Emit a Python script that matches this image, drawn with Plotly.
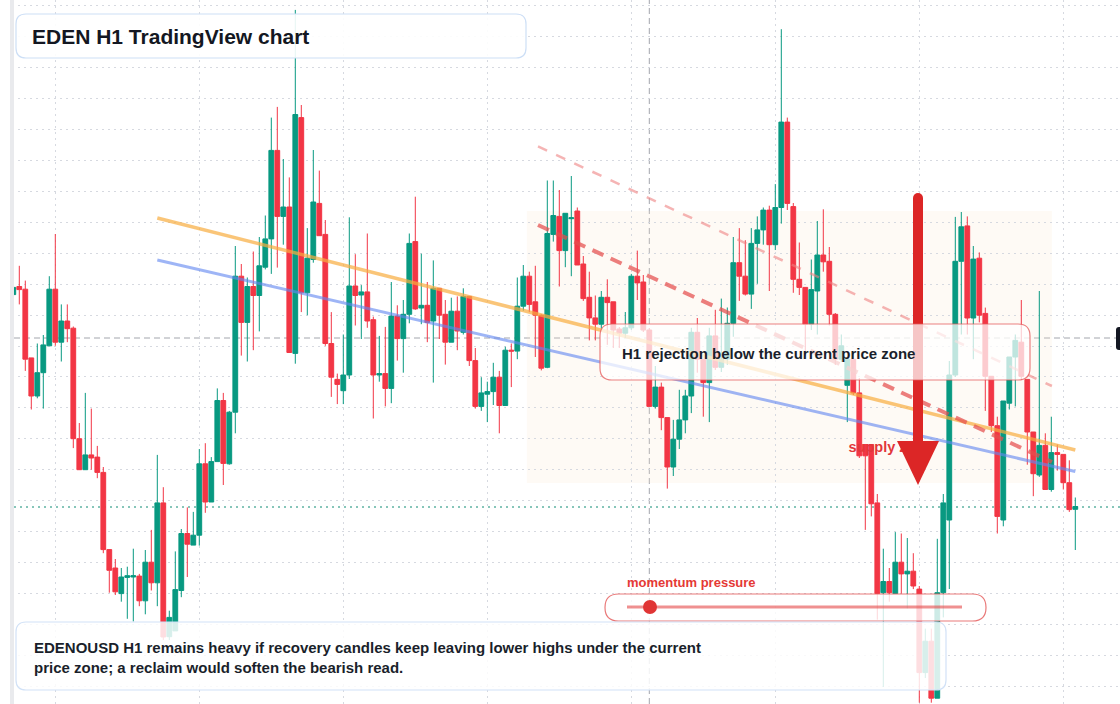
import plotly.graph_objects as go

W, H = 1120, 704

# ---------------- data (EDENOUSD H1 candles, price units) ----------------
opens = [
    .4254, .4335, .4308, .3621, .3240, .3473, .3742, .4308, .3778, .3990,
    .3918, .2813, .2503, .2651, .2629, .2476, .1704, .1520, .1264, .1426,
    .1430, .1439, .1192, .1578, .1372, .2171, .0833, .0891, .1295, .1865,
    .1749, .1848, .2562, .2180, .2584, .3195, .2562, .3078, .4438, .3976,
    .4335, .4245, .4528, .4811, .5696, .5036, .5130, .3666, .6024, .4272,
    .4605, .5166, .4856, .3765, .3406, .3293, .3450, .4340, .4250, .4281,
    .4003, .3450, .3464, .3316, .4039, .3814, .4057, .4784, .4120, .4147,
    .3990, .4317, .4057, .3778, .4088, .3877, .4236, .3594, .3136, .3258,
    .3284, .3428, .3145, .3698, .3689, .4138, .4438, .4182, .4048, .3527,
    .4856, .5036, .4694, .5013, .5090, .4560, .4227, .4021, .3958, .4227,
    .4182, .3910, .3868, .3922, .4438, .4380, .3900, .3136, .3329, .3024,
    .2530, .2808, .3001, .3240, .3877, .3608, .3374, .3841, .3527, .3610,
    .3967, .4573, .4438, .4259, .4766, .4901, .5099, .4753, .5125, .5979,
    .5134, .4407, .4326, .3958, .4290, .4650, .4587, .4057, .3608, .3347,
    .3608, .3271, .2755, .2755, .2171, .1273, .1385, .1264, .1578, .1461,
    .1488, .1309, .0474, .0788, .0218, .1273, .2000, .3450, .4587, .4941,
    .4020, .4618, .4066, .3437, .2943, .2000, .3168, .3630, .3778, .3406,
    .2880, .2450, .2746, .2305, .2674, .2656, .2373, .2107,
]
highs = [
    .4326, .4542, .4394, .3621, .3765, .3850, .4438, .4860, .4156, .4156,
    .3935, .2970, .3271, .3114, .2741, .2530, .1704, .1610, .1520, .1533,
    .1713, .1461, .1700, .1901, .2651, .2328, .1093, .1686, .1910, .2126,
    .2081, .2710, .2768, .2629, .3316, .3271, .3091, .4740, .4560, .4425,
    .4685, .4830, .5045, .6024, .6131, .5610, .5426, .7101, .6150, .4919,
    .5700, .5494, .5000, .4079, .3464, .3855, .5027, .4658, .4349, .4865,
    .4034, .3841, .3931, .4380, .4147, .4200, .4865, .5233, .4663, .4380,
    .4596, .4317, .4200, .4223, .4236, .4317, .4236, .3720, .3428, .3383,
    .3572, .3491, .3733, .3765, .4425, .4550, .4483, .4542, .4057, .5395,
    .5395, .5300, .5067, .5440, .5125, .4640, .4483, .4245, .4290, .4407,
    .4182, .3930, .4080, .4461, .4694, .4450, .3920, .3540, .3374, .3024,
    .3001, .3302, .3302, .3922, .4020, .3608, .3922, .4102, .4214, .4125,
    .4830, .4919, .4798, .4919, .5036, .5125, .5143, .5359, .6908, .6024,
    .5170, .4775, .4326, .4605, .4990, .5107, .4730, .4070, .3855, .3608,
    .3680, .3420, .2755, .2755, .2260, .1713, .1520, .1879, .1865, .1820,
    .1668, .1340, .0914, .0914, .1812, .2260, .3590, .5031, .5080, .5036,
    .4740, .4676, .4124, .3437, .3033, .3190, .3630, .3855, .4200, .3406,
    .2880, .4290, .2867, .3033, .2755, .2656, .2597, .2225,
]
lows = [
    .4254, .4156, .3491, .3105, .3217, .3114, .3742, .3742, .3585, .3778,
    .2719, .2503, .2503, .2503, .2418, .1668, .1273, .1250, .1183, .1012,
    .0985, .1138, .1057, .1295, .1138, .0800, .0800, .0891, .1228, .1430,
    .1749, .1744, .2072, .2180, .2584, .2350, .2553, .2867, .3644, .3585,
    .3698, .3886, .4506, .4461, .4524, .4753, .3675, .3563, .4079, .4048,
    .4573, .4843, .3742, .3231, .3159, .3159, .3410, .3945, .3810, .3922,
    .3015, .3383, .3136, .3168, .3594, .3473, .3967, .4102, .3958, .3778,
    .3374, .3810, .3554, .3778, .3698, .3855, .3540, .3114, .3091, .2979,
    .3150, .2867, .3145, .3329, .3608, .4093, .4079, .3630, .3496, .3518,
    .4784, .4335, .4528, .4438, .4550, .4191, .3796, .3796, .3913, .3751,
    .3720, .3720, .3820, .3900, .4200, .3880, .3136, .3114, .2898, .2314,
    .2440, .2710, .2867, .3069, .3473, .3033, .2979, .3500, .3480, .3550,
    .3832, .4191, .4245, .4111, .4362, .4753, .4290, .4700, .4964, .5100,
    .4272, .4250, .3644, .3900, .3855, .4483, .3945, .3550, .3580, .2979,
    .3250, .2620, .1901, .2036, .1003, .0330, .1183, .1264, .1264, .1116,
    .1309, .0173, .0420, .0173, .0218, .1026, .1310, .3430, .3855, .3855,
    .3608, .3976, .3091, .2880, .1865, .1937, .3105, .3136, .3400, .2553,
    .2238, .2431, .2305, .2283, .2494, .2305, .2081, .1700,
]
closes = [
    .4326, .4304, .3608, .3240, .3473, .3751, .4308, .3778, .3990, .3913,
    .2813, .2503, .2651, .2620, .2476, .1704, .1497, .1282, .1430, .1443,
    .1443, .1192, .1578, .1372, .2171, .0830, .1026, .1304, .1865, .1758,
    .1848, .2562, .2180, .2584, .3195, .2566, .3078, .4438, .3976, .4335,
    .4245, .4542, .4811, .5696, .5036, .5130, .3675, .6055, .4272, .4618,
    .5180, .4843, .3765, .3428, .3356, .3450, .4340, .4245, .4281, .3990,
    .3450, .3464, .3316, .4039, .3814, .4057, .4766, .4111, .4147, .3976,
    .4317, .4048, .3778, .4088, .3890, .4236, .3594, .3136, .3271, .3284,
    .3428, .3145, .3698, .3689, .4138, .4438, .4156, .4048, .3518, .4865,
    .5045, .4694, .5067, .5022, .4550, .4214, .4021, .3958, .4227, .4174,
    .3900, .3868, .3922, .4438, .4371, .3900, .3136, .3329, .3024, .2530,
    .2808, .3001, .3240, .3877, .3608, .3374, .3841, .3527, .3610, .3967,
    .4573, .4438, .4259, .4766, .4901, .5099, .4753, .5125, .5979, .5166,
    .4407, .4326, .3958, .4304, .4650, .4582, .4057, .3608, .3742, .3608,
    .3271, .2642, .2642, .2162, .1264, .1385, .1273, .1578, .1461, .1488,
    .1340, .0474, .0788, .0218, .1273, .2171, .3450, .4587, .4932, .4020,
    .4609, .4048, .3437, .2943, .2036, .3190, .3630, .3796, .3437, .2880,
    .2463, .2746, .2305, .2674, .2656, .2373, .2104, .2135,
]
bars = list(range(len(opens)))

# trend lines: [start bar, end bar], [start price, end price]
orange_x, orange_y = [24, 177], [0.502, 0.270]
blue_x, blue_y = [24, 177], [0.460, 0.2485]
upper_dash_x, upper_dash_y = [87.45, 173.1], [0.5736, 0.334]
lower_dash_x, lower_dash_y = [87.45, 173.1], [0.495, 0.258]

# supply zone (bars / prices)
zone_x = [85.6, 173.1]
zone_y = [0.237, 0.509]
zone_label_x, zone_label_y = 139.2, 0.272

current_level = 0.382   # grey dashed reference level
last_price = 0.2130     # dotted last-price line
cursor_bar = 106        # vertical crosshair

title_text = "EDEN H1 TradingView chart"
box_text = "H1 rejection below the current price zone"
momentum_text = "momentum pressure"
note_lines = [
    "EDENOUSD H1 remains heavy if recovery candles keep leaving lower highs under the current",
    "price zone; a reclaim would soften the bearish read.",
]

FONT = "Liberation Sans, Arial, sans-serif"
GREEN = "#089981"
RED = "#f23645"


def px(x):
    return x / W


def py(y):
    return 1 - y / H


def rrect(x0, y0, x1, y1, r):
    pts = [
        f"M {px(x0 + r)},{py(y0)}",
        f"L {px(x1 - r)},{py(y0)}",
        f"Q {px(x1)},{py(y0)} {px(x1)},{py(y0 + r)}",
        f"L {px(x1)},{py(y1 - r)}",
        f"Q {px(x1)},{py(y1)} {px(x1 - r)},{py(y1)}",
        f"L {px(x0 + r)},{py(y1)}",
        f"Q {px(x0)},{py(y1)} {px(x0)},{py(y1 - r)}",
        f"L {px(x0)},{py(y0 + r)}",
        f"Q {px(x0)},{py(y0)} {px(x0 + r)},{py(y0)}",
        "Z",
    ]
    return " ".join(pts)


fig = go.Figure()

fig.add_trace(go.Candlestick(
    x=bars, open=opens, high=highs, low=lows, close=closes,
    increasing=dict(line=dict(color=GREEN, width=1), fillcolor=GREEN),
    decreasing=dict(line=dict(color=RED, width=1), fillcolor=RED),
    whiskerwidth=0, hoverinfo="skip", showlegend=False,
))

fig.add_trace(go.Scatter(x=orange_x, y=orange_y, mode="lines",
                         line=dict(color="rgba(248,172,62,0.7)", width=3.5),
                         hoverinfo="skip", showlegend=False))
fig.add_trace(go.Scatter(x=blue_x, y=blue_y, mode="lines",
                         line=dict(color="rgba(98,136,240,0.62)", width=3),
                         hoverinfo="skip", showlegend=False))
fig.add_trace(go.Scatter(x=upper_dash_x, y=upper_dash_y, mode="lines",
                         line=dict(color="rgba(238,130,130,0.6)", width=2.5, dash="10px,10px"),
                         hoverinfo="skip", showlegend=False))
fig.add_trace(go.Scatter(x=lower_dash_x, y=lower_dash_y, mode="lines",
                         line=dict(color="rgba(228,78,78,0.72)", width=4, dash="12px,8px"),
                         hoverinfo="skip", showlegend=False))
fig.add_trace(go.Scatter(x=[zone_label_x], y=[zone_label_y], mode="text",
                         text=["<b>supply zone</b>"], textposition="middle right",
                         textfont=dict(family=FONT, size=14.5, color="#e2363a"),
                         hoverinfo="skip", showlegend=False))

shapes = []
# below-layer items
shapes.append(dict(type="rect", xref="x", yref="y", x0=zone_x[0], x1=zone_x[1],
                   y0=zone_y[0], y1=zone_y[1], fillcolor="rgba(252,228,205,0.2)",
                   line=dict(width=0), layer="below"))
shapes.append(dict(type="line", xref="paper", yref="y", x0=px(14), x1=1, y0=current_level,
                   y1=current_level, line=dict(color="#a3a6ad", width=1, dash="6px,4px"),
                   layer="below"))
shapes.append(dict(type="line", xref="paper", yref="y", x0=px(14), x1=1, y0=last_price,
                   y1=last_price, line=dict(color="#0e8c74", width=1, dash="2px,4px"),
                   layer="below"))
shapes.append(dict(type="line", xref="x", yref="paper", x0=cursor_bar, x1=cursor_bar, y0=0,
                   y1=1, line=dict(color="#a3a6ad", width=1, dash="6px,4px"), layer="below"))

# big bearish arrow
shapes.append(dict(type="rect", xref="paper", yref="paper", x0=px(913), x1=px(923),
                   y0=py(448), y1=py(198), fillcolor="#dc2626", line=dict(width=0), layer="above"))
shapes.append(dict(type="circle", xref="paper", yref="paper", x0=px(913), x1=px(923),
                   y0=py(203), y1=py(193), fillcolor="#dc2626", line=dict(width=0), layer="above"))
shapes.append(dict(type="path", xref="paper", yref="paper",
                   path=f"M {px(897)},{py(441)} L {px(939)},{py(441)} L {px(918)},{py(485)} Z",
                   fillcolor="#dc2626", line=dict(width=0), layer="above"))

# callout box
shapes.append(dict(type="path", xref="paper", yref="paper", path=rrect(600, 324, 1030, 380, 12),
                   fillcolor="rgba(255,255,255,0.74)", line=dict(color="rgba(228,88,88,0.75)", width=1.2),
                   layer="above"))
# momentum pill
shapes.append(dict(type="path", xref="paper", yref="paper", path=rrect(605, 594, 986, 621, 13.5),
                   fillcolor="rgba(255,255,255,0.8)", line=dict(color="rgba(228,88,88,0.8)", width=1.2),
                   layer="above"))
shapes.append(dict(type="line", xref="paper", yref="paper", x0=px(627), x1=px(962), y0=py(607),
                   y1=py(607), line=dict(color="rgba(228,70,70,0.6)", width=3), layer="above"))
shapes.append(dict(type="circle", xref="paper", yref="paper", x0=px(643), x1=px(657), y0=py(614),
                   y1=py(600), fillcolor="#e03535", line=dict(width=0), layer="above"))
# title box
shapes.append(dict(type="path", xref="paper", yref="paper", path=rrect(16, 14, 526, 58, 10),
                   fillcolor="rgba(255,255,255,0.9)", line=dict(color="#cddff6", width=1.2),
                   layer="above"))
# note box
shapes.append(dict(type="path", xref="paper", yref="paper", path=rrect(16, 622, 946, 690, 10),
                   fillcolor="rgba(255,255,255,0.84)", line=dict(color="#d2e2f7", width=1.2),
                   layer="above"))
# left edge strip
shapes.append(dict(type="rect", xref="paper", yref="paper", x0=0, x1=px(10), y0=0, y1=1,
                   fillcolor="white", line=dict(width=0), layer="above"))
shapes.append(dict(type="rect", xref="paper", yref="paper", x0=px(10), x1=px(14), y0=0, y1=1,
                   fillcolor="#e9eaed", line=dict(width=0), layer="above"))
# right edge price tag (clipped)
shapes.append(dict(type="path", xref="paper", yref="paper", path=rrect(1116, 327, 1136, 350, 3),
                   fillcolor="#131722", line=dict(width=0), layer="above"))

annotations = [
    dict(xref="paper", yref="paper", x=px(30), y=py(36), xanchor="left", yanchor="middle",
         text=f"<b>{title_text}</b>", showarrow=False,
         font=dict(family=FONT, size=21, color="#131722")),
    dict(xref="paper", yref="paper", x=px(620), y=py(353), xanchor="left", yanchor="middle",
         text=f"<b>{box_text}</b>", showarrow=False,
         font=dict(family=FONT, size=15, color="#1a1f2b")),
    dict(xref="paper", yref="paper", x=px(625), y=py(582), xanchor="left", yanchor="middle",
         text=f"<b>{momentum_text}</b>", showarrow=False,
         font=dict(family=FONT, size=13, color="#e53935")),
]
for i, line in enumerate(note_lines):
    annotations.append(dict(xref="paper", yref="paper", x=px(32), y=py(647 + 20 * i),
                            xanchor="left", yanchor="middle", text=f"<b>{line}</b>",
                            showarrow=False, font=dict(family=FONT, size=15, color="#1a1f2b")))

fig.update_layout(
    width=W, height=H,
    margin=dict(l=0, r=0, t=0, b=0, pad=0),
    paper_bgcolor="white", plot_bgcolor="white",
    showlegend=False, hovermode=False,
    boxgap=0.1, boxgroupgap=0.12,
    shapes=shapes, annotations=annotations,
    xaxis=dict(range=[-13.3 / 6, (W - 13.3) / 6], showticklabels=False, zeroline=False,
               showline=False, ticks="", showgrid=True, gridcolor="#d6d9e0", griddash="1.5px,4.5px",
               gridwidth=1, tick0=7, dtick=24, rangeslider=dict(visible=False), fixedrange=True),
    yaxis=dict(range=[0.720 - H / 1000, 0.720], showticklabels=False, zeroline=False,
               showline=False, ticks="", showgrid=True, gridcolor="#d6d9e0", griddash="1.5px,4.5px",
               gridwidth=1, tick0=0.6832, dtick=0.03092, fixedrange=True),
)

fig.write_html("out.html")
